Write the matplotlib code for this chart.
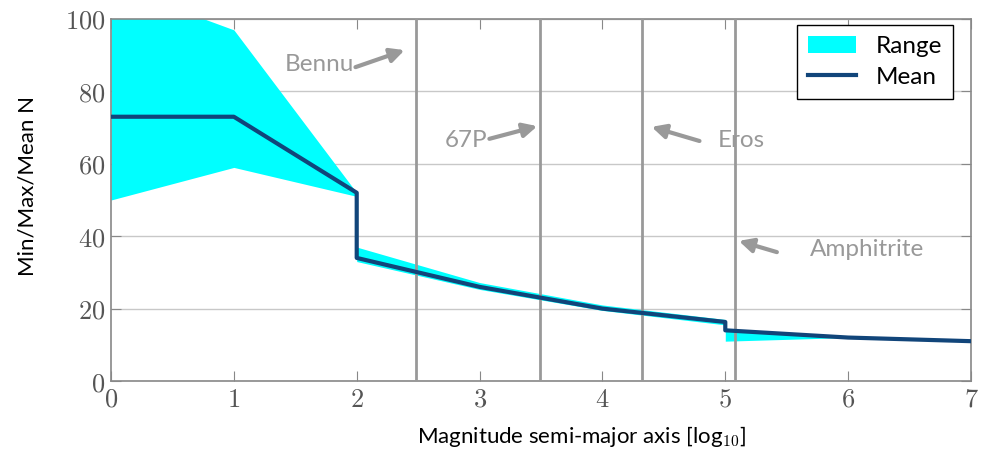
import matplotlib
matplotlib.use("Agg")
import matplotlib.pyplot as plt

plt.rcParams['mathtext.fontset'] = 'cm'
plt.rcParams['font.family'] = ['Lato', 'DejaVu Sans']

# Data
x = [0, 1, 2, 2, 3, 4, 5, 5, 6, 7]
mean_n = [73, 73, 52, 34, 26, 20, 16.3, 14, 12, 11]
range_lo = [50, 59, 51, 33, 25.3, 19.5, 15.5, 11, 12, 11]
range_hi = [109.5, 97, 52, 37, 27.2, 21, 17, 14, 12, 11]

objects = ['Bennu', '67P', 'Eros', 'Amphitrite']
obj_x = [2.48, 3.49, 4.32, 5.08]
text_pos = [(1.70, 87.3), (2.89, 66.3), (5.13, 66.3), (6.15, 36.2)]
arrow_tail = [(1.99, 86.7), (3.08, 66.9), (4.79, 66.3), (5.42, 35.6)]
arrow_tip = [(2.39, 91.4), (3.47, 70.4), (4.40, 70.2), (5.11, 38.7)]

xticks = [0, 1, 2, 3, 4, 5, 6, 7]
yticks = [0, 20, 40, 60, 80, 100]

fig = plt.figure(figsize=(9.81, 4.63), dpi=100)
ax = fig.add_axes([111/981, (463-381)/463, 860/981, 362/463])

gray = '#999999'
ax.set_axisbelow(True)
ax.grid(axis='y', color='#c8c8c8', lw=1)

ax.fill_between(x, range_lo, range_hi, color='#00ffff', lw=0, label='Range', zorder=2)
for vx in obj_x:
    ax.axvline(vx, color=gray, lw=2, zorder=3)
ax.plot(x, mean_n, color='#11457a', lw=3, label='Mean', zorder=4)

for name, tp, tail, tip in zip(objects, text_pos, arrow_tail, arrow_tip):
    ax.text(tp[0], tp[1], name, fontsize=17.5, color=gray,
            ha='center', va='center', zorder=5)
    ax.annotate('', xy=tip, xytext=tail, zorder=5,
                arrowprops=dict(arrowstyle='-|>,head_length=0.6,head_width=0.3',
                                color=gray, lw=3, mutation_scale=14,
                                shrinkA=0, shrinkB=0))

ax.set_xlim(0, 7)
ax.set_ylim(0, 100)
ax.set_xticks(xticks)
ax.set_yticks(yticks)
ax.set_xticklabels([f'${t}$' for t in xticks])
ax.set_yticklabels([f'${t}$' for t in yticks])
ax.tick_params(direction='in', which='both', top=True, right=True, length=7,
               color='#888888', labelsize=19, labelcolor='#555555', pad=4)
for s in ax.spines.values():
    s.set_color('#888888')
    s.set_linewidth(1.2)

ax.set_xlabel('Magnitude semi-major axis [log$_{10}$]', fontsize=16)
ax.set_ylabel('Min/Max/Mean N', fontsize=16)
ax.xaxis.set_label_coords(0.547, -0.12)
ax.yaxis.set_label_coords(-0.085, 0.539)

leg = ax.legend(loc='upper right', fontsize=17.5, frameon=True, fancybox=False,
                edgecolor='black', framealpha=1, handlelength=2.0,
                borderpad=0.45, borderaxespad=0, labelspacing=0.4,
                bbox_to_anchor=(0.979, 0.983))
leg.get_frame().set_linewidth(1)

fig.savefig('out.png', dpi=100)
